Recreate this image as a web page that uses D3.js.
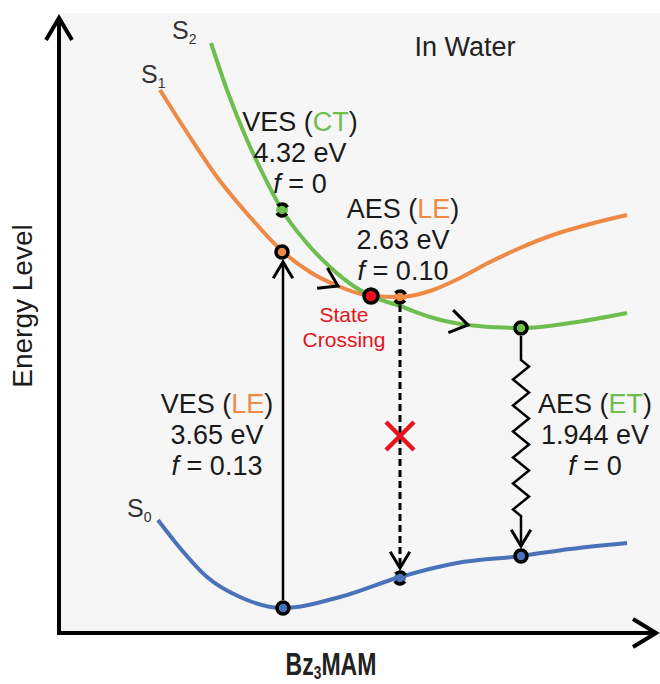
<!DOCTYPE html>
<html>
<head>
<meta charset="utf-8">
<script src="https://cdn.jsdelivr.net/npm/d3@7"></script>
<style>
  body { margin: 0; background: #fff; }
  svg text { font-family: "Liberation Sans", Arial, sans-serif; }
</style>
</head>
<body>
<div id="chart"></div>
<script>
// Potential energy curves
// q = reaction coordinate (arbitrary), E = energy level (arbitrary)
var s2Q = [151, 167, 187, 205, 222, 245, 270, 295, 311, 340, 370, 408, 461, 510, 567];
var s2E = [590, 543, 493, 455, 423, 392, 366, 346, 337, 327, 316, 308, 305, 310, 320];
var s1Q = [100, 128, 157, 190, 222, 250, 278, 311, 340, 370, 400, 430, 460, 490, 530, 567];
var s1E = [543, 499, 456, 416, 382, 361, 347, 337, 336, 342, 355, 371, 385, 397, 409, 418];
var s0Q = [98, 120, 147, 180, 223, 280, 340, 397, 461, 510, 567];
var s0E = [113, 85, 56, 36, 25, 36, 56, 70, 77, 84, 90];

// state points on the curves
var ptQ     = [222, 222, 223, 311, 340, 340, 461, 461];
var ptE     = [423, 381, 25, 337, 336, 55, 305, 77];
var ptState = ["S2", "S1", "S0", "X", "S1", "S0", "S2", "S0"];
var ptDash  = [true, false, false, false, true, true, false, false];

// vertical transitions: q, from E, to E, kind
var trQ    = [223, 340, 461];
var trFrom = [25, 336, 305];
var trTo   = [381, 55, 77];
var trKind = ["solid", "dashed", "zigzag"];

// annotation texts
var annType   = ["VES", "AES", "VES", "AES"];
var annState  = ["CT", "LE", "LE", "ET"];
var annEnergy = ["4.32 eV", "2.63 eV", "3.65 eV", "1.944 eV"];
var annOsc    = ["0", "0.10", "0.13", "0"];

var colors = { S0: "#4a72b8", S1: "#ef8a46", S2: "#6dbd4f", X: "#e8121a" };
var stateColor = { CT: colors.S2, ET: colors.S2, LE: colors.S1 };

var W = 660, H = 684;
var x = d3.scaleLinear().domain([0, 600]).range([60, 660]);
var y = d3.scaleLinear().domain([0, 620]).range([633, 13]);

var svg = d3.select("#chart").append("svg")
    .attr("width", W).attr("height", H);

// plot background
svg.append("rect")
    .attr("x", x(1)).attr("y", y(620))
    .attr("width", W - x(1)).attr("height", y(0) - y(620))
    .attr("fill", "#f6f6f6");

var line = d3.line()
    .x(function(d) { return x(d[0]); })
    .y(function(d) { return y(d[1]); })
    .curve(d3.curveMonotoneX);

var curves = [
  { name: "S0", q: s0Q, e: s0E },
  { name: "S1", q: s1Q, e: s1E },
  { name: "S2", q: s2Q, e: s2E }
];
curves.forEach(function(c) {
  svg.append("path")
      .datum(d3.zip(c.q, c.e))
      .attr("d", line)
      .attr("fill", "none")
      .attr("stroke", colors[c.name])
      .attr("stroke-width", 4);
});

// open chevron arrowhead, apex at (px,py) pointing to angle (deg)
function chevron(px, py, ang, len, half, sw) {
  var a = ang * Math.PI / 180, h = half * Math.PI / 180;
  var p1 = [px - len * Math.cos(a - h), py - len * Math.sin(a - h)];
  var p2 = [px - len * Math.cos(a + h), py - len * Math.sin(a + h)];
  svg.append("path")
      .attr("d", "M" + p1 + "L" + px + "," + py + "L" + p2)
      .attr("fill", "none").attr("stroke", "#000")
      .attr("stroke-width", sw).attr("stroke-linejoin", "miter");
}

// transitions
trQ.forEach(function(q, i) {
  var x0 = x(q), y0 = y(trFrom[i]), y1 = y(trTo[i]);
  var dir = y1 < y0 ? -1 : 1;
  var yEnd = y1 - dir * 10;
  if (trKind[i] === "zigzag") {
    var zs = y0 + 32, ze = yEnd - 30, n = 12, amp = 8;
    var pts = [[x0, y0 + 8], [x0, zs]];
    for (var k = 0; k < n; k++) {
      pts.push([x0 + (k % 2 === 0 ? amp : -amp), zs + (k + 0.5) * (ze - zs) / n]);
    }
    pts.push([x0, ze], [x0, yEnd]);
    svg.append("path").attr("d", "M" + pts.join("L"))
        .attr("fill", "none").attr("stroke", "#000")
        .attr("stroke-width", 2.5).attr("stroke-linejoin", "miter");
  } else {
    svg.append("line")
        .attr("x1", x0).attr("x2", x0)
        .attr("y1", y0 + dir * 8).attr("y2", yEnd)
        .attr("stroke", "#000").attr("stroke-width", trKind[i] === "dashed" ? 3 : 2.5)
        .attr("stroke-dasharray", trKind[i] === "dashed" ? "7,4" : null);
  }
  chevron(x0, yEnd, dir < 0 ? -90 : 90, 19, 31, 3);
});

// arrows along the curves
function curveArrow(qs, es, q) {
  var i = d3.bisectLeft(qs, q);
  var ang = Math.atan2(y(es[i]) - y(es[i - 1]), x(qs[i]) - x(qs[i - 1])) * 180 / Math.PI;
  var t = (q - qs[i - 1]) / (qs[i] - qs[i - 1]);
  var e = es[i - 1] + t * (es[i] - es[i - 1]);
  chevron(x(q), y(e), ang, 21, 33, 3);
}
curveArrow(s1Q, s1E, 278);
curveArrow(s2Q, s2E, 408);

// blocked emission cross
var cx = x(340), cy = y(197);
[[-14, -14, 14, 14], [-14, 14, 14, -14]].forEach(function(s) {
  svg.append("line")
      .attr("x1", cx + s[0]).attr("y1", cy + s[1])
      .attr("x2", cx + s[2]).attr("y2", cy + s[3])
      .attr("stroke", colors.X).attr("stroke-width", 4.5);
});

// state points
var r = 6, circ = 2 * Math.PI * r;
svg.selectAll(".pt")
  .data(d3.range(ptQ.length))
  .enter().append("circle")
    .attr("class", "pt")
    .attr("cx", function(i) { return x(ptQ[i]); })
    .attr("cy", function(i) { return y(ptE[i]); })
    .attr("r", function(i) { return ptState[i] === "X" ? 7 : r; })
    .attr("fill", function(i) { return colors[ptState[i]]; })
    .attr("stroke", "#000")
    .attr("stroke-width", 3.5)
    .attr("stroke-dasharray", function(i) { return ptDash[i] ? (circ * 0.3) + "," + (circ * 0.2) : null; })
    .attr("stroke-dashoffset", function(i) { return ptDash[i] ? -circ * 0.1 : null; });

// axes
var axisG = svg.append("g").attr("stroke", "#000").attr("fill", "none");
axisG.append("path")
    .attr("d", "M" + x(-1) + "," + 18 + "V" + (y(0) + 2) + "M" + (x(-3)) + "," + y(0) + "H" + 657)
    .attr("stroke-width", 4);
axisG.append("path").attr("d", "M46,40L" + x(-1) + ",18L72,40").attr("stroke-width", 4);
axisG.append("path").attr("d", "M633,619L656," + y(0) + "L633,647").attr("stroke-width", 4);

svg.append("text")
    .attr("transform", "translate(32,306) rotate(-90)")
    .attr("text-anchor", "middle")
    .attr("font-size", 28).attr("fill", "#1a1a1a")
    .text("Energy Level");

var xt = svg.append("text")
    .attr("transform", "translate(331,675) scale(0.72,1)")
    .attr("text-anchor", "middle")
    .attr("font-size", 32).attr("font-weight", "bold").attr("fill", "#222");
xt.append("tspan").text("Bz");
xt.append("tspan").attr("font-size", 19).attr("dy", 4).text("3");
xt.append("tspan").attr("dy", -4).text("MAM");

svg.append("text")
    .attr("x", 465).attr("y", 56)
    .attr("text-anchor", "middle")
    .attr("font-size", 27).attr("fill", "#222")
    .text("In Water");

// curve names
var sLab = [["S", "2", 172, 39], ["S", "1", 141, 83], ["S", "0", 127, 517]];
sLab.forEach(function(s) {
  var t = svg.append("text").attr("x", s[2]).attr("y", s[3])
      .attr("font-size", 25).attr("fill", "#333");
  t.append("tspan").text(s[0]);
  t.append("tspan").attr("font-size", 14).attr("dy", 5).text(s[1]);
});

// annotations
var annPos = [[300, 131], [403, 218], [217, 413], [595, 413]];
annType.forEach(function(tp, i) {
  var g = svg.append("g").attr("font-size", 27).attr("fill", "#1a1a1a")
      .attr("text-anchor", "middle");
  var t1 = g.append("text").attr("x", annPos[i][0]).attr("y", annPos[i][1]);
  t1.append("tspan").text(tp + " (");
  t1.append("tspan").attr("fill", stateColor[annState[i]]).text(annState[i]);
  t1.append("tspan").text(")");
  g.append("text").attr("x", annPos[i][0]).attr("y", annPos[i][1] + 31).text(annEnergy[i]);
  var t3 = g.append("text").attr("x", annPos[i][0]).attr("y", annPos[i][1] + 62);
  t3.append("tspan").attr("font-style", "italic").text("f");
  t3.append("tspan").text(" = " + annOsc[i]);
});

var sc = svg.append("g").attr("font-size", 21).attr("fill", colors.X).attr("text-anchor", "middle");
sc.append("text").attr("x", 344).attr("y", 322).text("State");
sc.append("text").attr("x", 344).attr("y", 347).text("Crossing");
</script>
</body>
</html>
